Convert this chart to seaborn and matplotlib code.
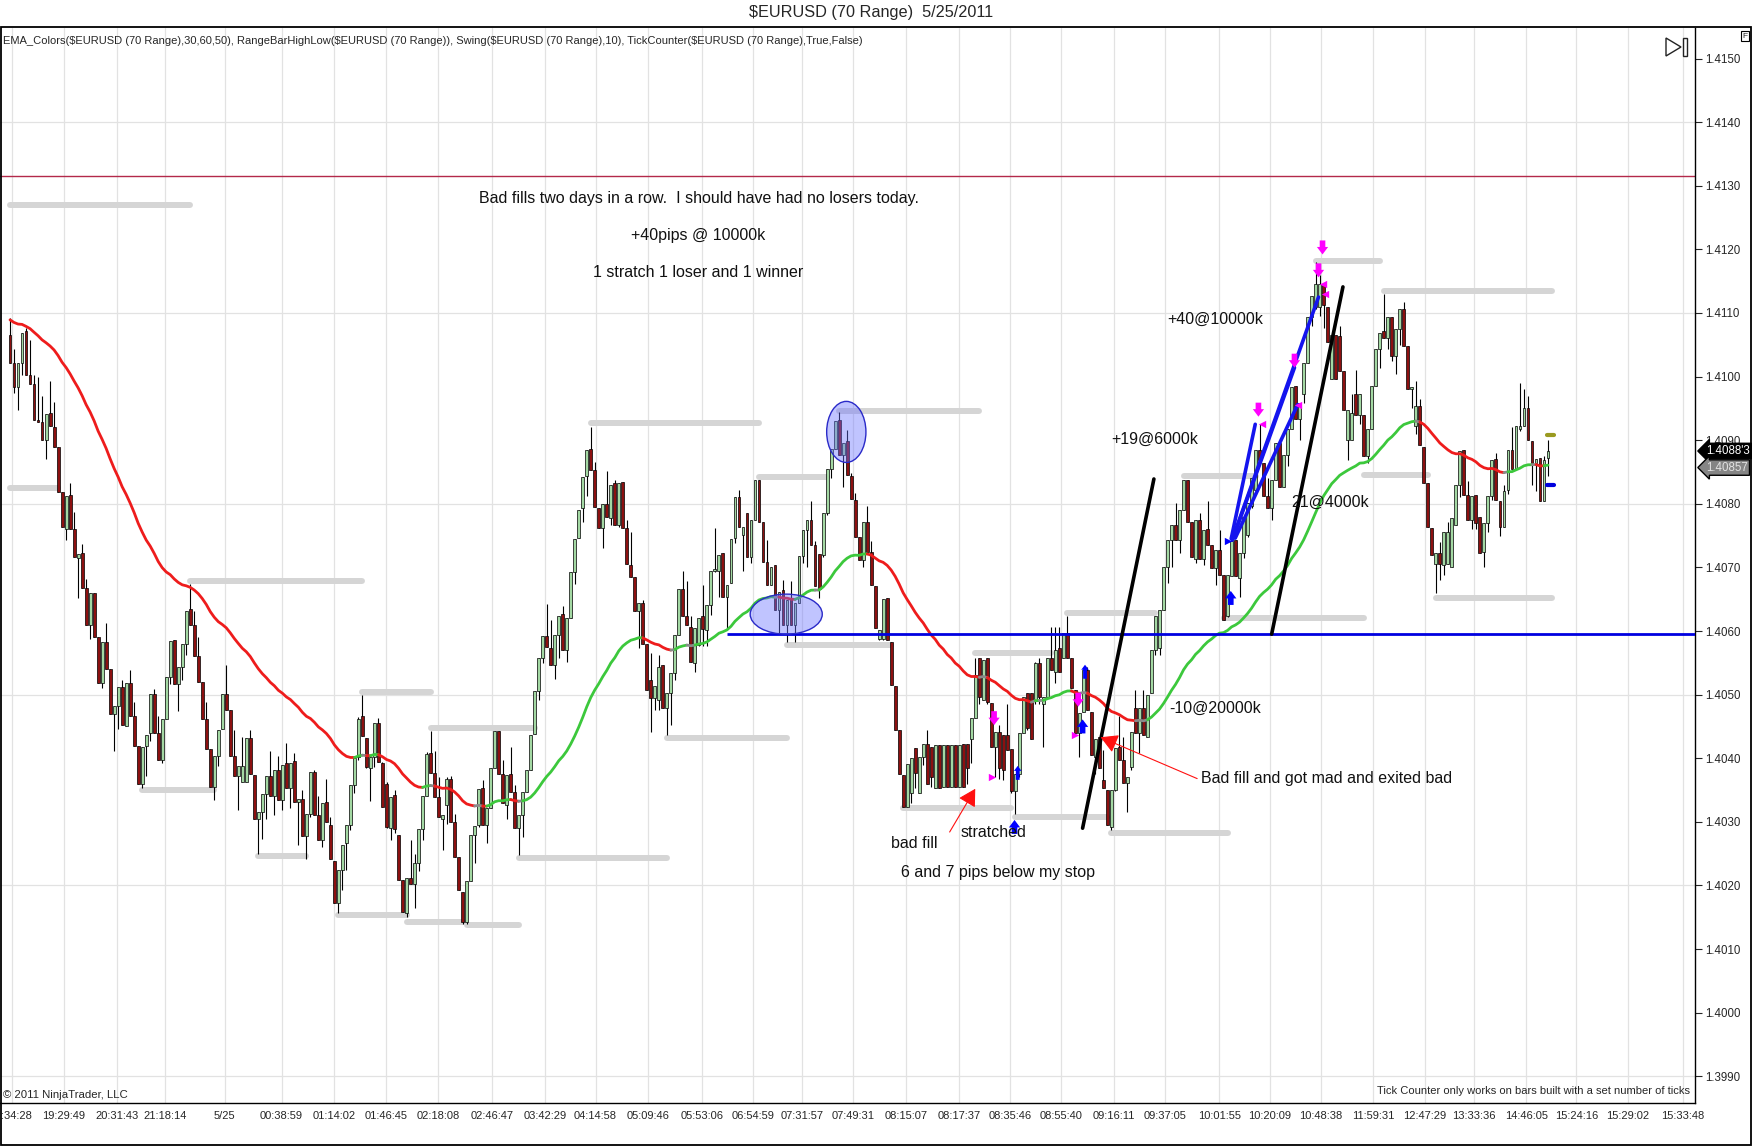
import numpy as np
import pandas as pd
import seaborn as sns
import matplotlib.pyplot as plt
from matplotlib.patches import Ellipse, Rectangle, Polygon
from matplotlib.ticker import FormatStrFormatter
from matplotlib.transforms import blended_transform_factory, ScaledTranslation

# 70-tick range bars, values in pips above 1.4000
bar_open = [
    106.6, 102.1, 98.4, 102.1, 107.2, 100.3, 98.8, 93.1, 92.8, 90.0,
    94.2, 92.1, 88.9, 81.9, 76.1, 81.4, 76.0, 71.5, 72.2, 66.7,
    60.9, 66.0, 59.0, 51.9, 58.2, 54.1, 47.0, 48.2, 51.2, 45.0,
    51.9, 46.7, 41.9, 36.0, 41.9, 44.0, 50.1, 44.0, 39.7, 46.1,
    52.8, 58.6, 51.7, 54.4, 58.0, 63.4, 60.9, 56.1, 52.0, 46.2,
    41.5, 35.5, 40.4, 44.6, 50.1, 47.6, 40.4, 37.2, 36.3, 36.3,
    43.2, 37.3, 30.5, 31.5, 34.3, 37.2, 34.1, 38.2, 33.4, 39.2,
    35.3, 39.5, 33.1, 33.6, 27.8, 31.3, 37.9, 31.0, 27.1, 33.1,
    29.5, 23.9, 17.3, 22.5, 26.6, 29.5, 35.8, 40.2, 46.6, 43.2,
    38.5, 40.2, 45.6, 39.3, 36.0, 29.0, 34.2, 27.9, 20.8, 15.6,
    21.2, 20.3, 23.5, 28.8, 34.0, 40.9, 37.7, 33.9, 30.4, 32.6,
    36.8, 30.0, 24.5, 19.0, 14.3, 20.7, 27.9, 29.5, 35.3, 29.5,
    32.1, 38.4, 44.3, 37.5, 32.6, 37.6, 34.7, 29.0, 31.0, 34.7,
    38.1, 43.8, 50.6, 55.8, 59.2, 57.4, 54.6, 59.4, 62.6, 57.0,
    62.1, 69.2, 74.7, 79.4, 84.3, 88.6, 85.3, 79.4, 76.2, 80.0,
    77.8, 83.2, 76.6, 83.4, 76.2, 70.3, 68.5, 63.1, 64.4, 57.9,
    52.3, 49.4, 49.2, 54.7, 47.9, 50.2, 53.4, 59.4, 66.6, 62.3,
    60.7, 54.9, 57.8, 62.3, 60.2, 64.1, 69.4, 69.4, 72.2, 65.4,
    67.5, 74.6, 81.0, 75.1, 78.6, 71.7, 77.4, 83.8, 77.2, 70.8,
    67.3, 70.4, 63.3, 66.5, 61.0, 65.2, 61.0, 64.4, 71.8, 75.9,
    77.4, 73.5, 72.1, 72.0, 78.6, 85.4, 88.6, 93.1, 87.7, 89.8,
    84.4, 80.6, 74.8, 71.2, 77.1, 72.5, 67.1, 58.7, 58.7, 65.2,
    58.3, 51.4, 44.4, 37.4, 32.4, 34.5, 41.6, 34.5, 40.2, 42.3,
    41.8, 35.3, 42.1, 35.5, 42.1, 35.5, 42.1, 35.5, 42.3, 42.3,
    43.1, 46.3, 55.7, 49.2, 55.7, 48.7, 41.8, 44.2, 43.7, 43.7,
    41.4, 34.8, 37.6, 43.9, 50.2, 50.2, 49.2, 55.0, 48.6, 49.7,
    55.7, 53.6, 57.3, 55.7, 59.7, 55.7, 50.7, 43.9, 47.3, 53.9,
    47.3, 40.2, 43.4, 36.6, 35.0, 29.2, 35.0, 41.8, 39.7, 36.1,
    38.7, 47.9, 43.9, 47.9, 43.4, 50.2, 57.0, 57.3, 63.3, 70.1,
    74.3, 76.7, 74.3, 79.0, 83.8, 77.2, 71.4, 77.5, 71.4, 76.0,
    73.5, 69.9, 72.8, 68.8, 62.3, 68.6, 74.3, 68.3, 72.3, 75.1,
    79.6, 82.2, 88.5, 86.4, 81.2, 79.3, 83.8, 89.6, 82.7, 87.7,
    91.7, 98.5, 93.3, 97.2, 102.2, 109.3, 110.9, 110.9, 114.6, 110.9,
    99.6, 106.5, 106.4, 100.9, 90.1, 90.1, 97.2, 94.0, 93.9, 87.5,
    91.7, 98.5, 104.3, 107.2, 106.1, 109.3, 103.3, 107.5, 110.6, 104.8,
    98.0, 92.2, 95.4, 89.0, 83.3, 76.2, 70.6, 72.2, 70.4, 70.6,
    70.1, 76.7, 83.0, 88.4, 81.4, 77.5, 81.4, 78.0, 72.5, 77.0,
    81.2, 87.0, 80.4, 76.4, 82.2, 88.5, 85.4, 91.7, 92.2, 95.0,
    89.8, 86.4, 87.2, 80.4, 87.2,
]
bar_high = [
    109.2, 104.4, 102.1, 106.9, 107.6, 105.8, 100.2, 99.9, 97.0, 94.1,
    99.3, 96.0, 88.9, 81.9, 81.2, 83.2, 78.7, 72.1, 73.7, 68.1,
    66.0, 66.0, 59.0, 58.2, 61.3, 54.1, 48.2, 51.2, 52.3, 51.9,
    53.8, 48.8, 41.9, 41.7, 43.6, 50.1, 50.9, 46.7, 46.1, 52.8,
    58.4, 58.6, 54.4, 58.0, 63.2, 67.4, 63.1, 59.1, 52.0, 48.8,
    41.5, 40.4, 44.5, 50.1, 54.7, 47.6, 44.4, 38.8, 43.3, 43.2,
    44.5, 37.3, 31.5, 34.3, 37.2, 41.1, 38.1, 40.4, 39.0, 42.4,
    39.2, 40.8, 33.6, 35.0, 31.3, 37.8, 38.2, 34.0, 32.9, 36.7,
    30.8, 23.9, 22.5, 26.4, 29.5, 35.8, 40.2, 46.5, 49.9, 43.2,
    40.2, 45.6, 46.4, 39.4, 36.3, 33.9, 35.0, 27.9, 20.8, 21.1,
    27.1, 25.0, 28.8, 34.0, 41.0, 44.3, 41.2, 37.1, 31.0, 37.1,
    37.2, 31.3, 24.5, 19.0, 20.7, 27.9, 29.3, 35.1, 36.6, 32.1,
    38.4, 44.3, 44.3, 39.7, 37.3, 41.7, 35.8, 31.0, 34.7, 38.1,
    43.6, 50.6, 55.8, 59.2, 64.3, 61.7, 59.4, 62.3, 63.9, 62.1,
    69.2, 74.5, 79.1, 84.2, 88.5, 92.0, 86.5, 79.4, 80.0, 85.1,
    83.0, 83.7, 83.2, 83.4, 77.4, 75.5, 68.5, 64.4, 64.9, 57.9,
    56.5, 51.3, 56.2, 54.7, 50.2, 53.4, 59.3, 66.6, 69.4, 67.8,
    62.3, 60.4, 62.0, 67.3, 64.1, 69.4, 76.2, 72.0, 72.2, 67.3,
    74.4, 81.0, 82.2, 76.4, 78.6, 77.4, 83.8, 83.8, 77.2, 74.3,
    70.1, 70.4, 66.2, 68.0, 64.9, 67.8, 64.4, 71.8, 75.9, 77.4,
    80.4, 74.1, 72.1, 78.6, 85.4, 88.6, 93.0, 94.4, 89.6, 91.6,
    84.9, 81.7, 74.8, 77.1, 79.6, 74.1, 67.1, 60.2, 65.0, 65.2,
    58.3, 51.4, 44.4, 37.4, 39.1, 40.0, 41.6, 40.2, 42.3, 44.4,
    41.8, 42.1, 42.1, 42.1, 42.1, 42.1, 42.1, 42.1, 42.3, 42.3,
    46.3, 55.7, 55.7, 55.5, 55.7, 48.7, 44.2, 45.2, 43.7, 48.6,
    41.4, 37.6, 43.9, 49.7, 50.2, 50.2, 55.2, 55.7, 49.7, 55.7,
    60.7, 60.7, 60.7, 59.7, 62.3, 55.7, 50.7, 47.1, 53.9, 54.4,
    47.3, 43.1, 43.4, 41.3, 35.0, 35.0, 41.6, 46.6, 43.4, 37.1,
    44.2, 50.7, 47.9, 50.7, 49.9, 57.0, 62.3, 63.3, 70.1, 74.3,
    76.7, 80.1, 79.0, 83.8, 83.8, 77.2, 77.4, 78.5, 75.9, 80.4,
    73.5, 72.8, 75.9, 68.8, 68.8, 74.3, 74.3, 72.2, 78.0, 80.1,
    84.1, 88.5, 92.5, 86.4, 84.0, 83.8, 89.6, 89.6, 87.7, 91.7,
    98.3, 98.5, 95.9, 102.2, 109.3, 112.7, 118.0, 116.0, 114.6, 110.9,
    106.5, 106.5, 108.0, 100.9, 94.8, 97.2, 101.1, 97.2, 93.9, 91.7,
    98.5, 104.3, 106.9, 113.0, 109.3, 109.3, 107.5, 110.6, 111.7, 104.8,
    98.4, 99.3, 96.5, 89.0, 83.3, 76.2, 72.2, 74.0, 75.5, 77.2,
    77.7, 83.0, 88.3, 88.4, 83.6, 81.2, 81.4, 78.0, 77.0, 81.3,
    86.9, 88.0, 80.4, 83.0, 88.5, 92.0, 92.2, 99.0, 98.0, 97.0,
    89.8, 87.0, 87.2, 87.5, 90.1,
]
bar_low = [
    102.1, 97.4, 94.8, 100.2, 100.3, 98.8, 93.1, 92.9, 90.0, 87.1,
    92.3, 88.9, 81.9, 76.3, 74.3, 76.1, 71.6, 65.2, 66.8, 61.0,
    58.7, 59.1, 51.9, 51.1, 54.1, 47.0, 41.1, 44.6, 45.3, 45.0,
    46.7, 41.9, 36.0, 35.3, 37.2, 42.7, 44.0, 39.7, 39.2, 46.1,
    51.7, 51.7, 47.4, 52.3, 56.2, 60.9, 56.1, 52.0, 46.2, 41.5,
    35.5, 33.4, 38.8, 44.6, 47.6, 40.4, 37.2, 31.8, 36.3, 36.3,
    37.6, 30.5, 25.0, 27.3, 30.5, 34.1, 31.1, 33.4, 31.8, 35.3,
    32.1, 33.1, 26.3, 27.8, 24.1, 30.8, 31.0, 27.1, 26.0, 29.9,
    24.1, 17.3, 15.7, 19.3, 22.4, 28.7, 34.5, 39.7, 43.5, 38.4,
    33.2, 38.6, 39.4, 32.3, 29.0, 27.1, 28.2, 20.8, 15.9, 15.1,
    20.3, 16.4, 22.2, 27.1, 34.0, 37.7, 33.9, 30.7, 25.5, 29.7,
    30.0, 24.5, 19.3, 14.0, 14.0, 20.7, 23.5, 29.2, 29.5, 26.6,
    32.1, 38.4, 37.5, 32.9, 30.5, 34.7, 29.0, 24.8, 27.6, 34.7,
    38.1, 43.8, 49.1, 54.9, 57.5, 54.7, 52.5, 55.7, 57.0, 55.1,
    62.1, 67.4, 74.7, 77.1, 81.3, 85.3, 79.5, 76.2, 73.0, 77.9,
    76.6, 76.6, 76.4, 76.2, 70.5, 68.5, 63.1, 57.4, 58.0, 50.8,
    44.2, 47.6, 47.6, 47.9, 43.6, 45.2, 52.3, 59.4, 62.3, 61.0,
    55.2, 53.5, 57.6, 57.6, 57.6, 62.5, 69.2, 65.4, 65.4, 60.3,
    67.5, 73.8, 76.4, 69.4, 71.7, 70.7, 77.4, 77.2, 70.8, 67.3,
    67.3, 63.3, 59.6, 61.0, 58.3, 61.0, 58.3, 64.4, 70.7, 70.1,
    73.5, 67.1, 65.2, 71.7, 78.3, 84.0, 88.6, 87.7, 82.6, 84.6,
    80.7, 74.8, 71.2, 70.1, 72.5, 67.3, 60.4, 58.6, 58.6, 58.6,
    51.5, 44.5, 37.5, 32.4, 32.3, 33.0, 35.3, 34.5, 39.0, 36.0,
    35.5, 35.3, 35.3, 35.5, 35.5, 35.5, 35.5, 35.5, 35.5, 36.0,
    39.2, 46.3, 48.6, 49.2, 48.6, 41.8, 37.1, 36.8, 36.6, 41.3,
    34.5, 31.3, 37.1, 43.9, 44.4, 43.1, 48.6, 48.6, 41.8, 49.7,
    53.9, 51.8, 53.6, 55.7, 55.7, 51.0, 43.7, 40.2, 47.3, 47.6,
    40.5, 37.6, 38.4, 35.3, 29.5, 28.7, 34.8, 39.7, 36.1, 31.6,
    38.1, 43.9, 40.8, 43.7, 43.4, 50.2, 56.2, 56.2, 63.3, 67.5,
    70.1, 74.3, 72.2, 79.0, 77.2, 71.7, 70.7, 71.4, 70.4, 73.5,
    69.9, 67.3, 68.8, 61.7, 62.2, 68.6, 68.6, 65.4, 71.5, 74.8,
    79.3, 81.5, 86.9, 81.2, 79.3, 77.5, 83.8, 82.7, 82.7, 86.0,
    91.7, 93.3, 90.1, 95.9, 102.2, 108.0, 110.6, 109.6, 107.7, 105.4,
    99.6, 99.6, 100.9, 94.8, 86.9, 90.1, 94.0, 92.5, 87.5, 86.4,
    91.7, 98.5, 101.4, 106.1, 104.3, 102.5, 100.4, 105.0, 104.8, 98.1,
    95.0, 91.0, 89.3, 83.3, 76.4, 71.9, 65.9, 68.0, 68.8, 70.6,
    70.1, 76.7, 81.0, 81.4, 77.5, 76.0, 76.0, 72.2, 70.0, 75.5,
    80.6, 80.6, 75.0, 76.4, 81.5, 85.4, 85.4, 91.5, 92.2, 90.1,
    83.0, 82.0, 80.4, 80.4, 84.3,
]
bar_close = [
    102.1, 98.4, 102.1, 106.9, 100.3, 98.8, 93.1, 92.9, 90.0, 94.1,
    92.3, 88.9, 81.9, 76.3, 81.2, 76.1, 71.6, 72.1, 66.8, 61.0,
    66.0, 59.1, 51.9, 58.2, 54.1, 47.0, 48.2, 51.2, 45.3, 51.9,
    46.7, 41.9, 36.0, 41.7, 43.6, 50.1, 44.0, 39.7, 46.1, 52.8,
    58.4, 51.7, 54.4, 58.0, 63.2, 60.9, 56.1, 52.0, 46.2, 41.5,
    35.5, 40.4, 44.5, 50.1, 47.6, 40.4, 37.2, 38.8, 38.8, 43.2,
    37.6, 30.5, 31.5, 34.3, 37.2, 34.1, 38.1, 33.4, 39.0, 35.3,
    39.2, 33.1, 33.6, 27.8, 31.3, 37.8, 31.0, 27.1, 32.9, 29.9,
    24.1, 17.3, 22.5, 26.4, 29.5, 35.8, 40.0, 46.2, 43.5, 38.6,
    40.2, 45.6, 39.4, 32.3, 29.2, 33.9, 28.8, 20.8, 15.9, 21.1,
    20.3, 23.5, 28.8, 34.0, 40.7, 37.7, 33.9, 30.7, 31.0, 36.7,
    30.0, 24.5, 19.3, 14.3, 20.7, 27.9, 29.3, 35.1, 29.5, 32.1,
    38.4, 44.3, 37.5, 32.9, 37.3, 34.7, 29.0, 31.0, 34.7, 38.1,
    43.6, 50.6, 55.8, 59.2, 57.5, 54.7, 59.4, 62.3, 57.0, 62.1,
    69.2, 74.5, 79.1, 84.2, 88.5, 85.3, 79.5, 76.2, 80.0, 77.9,
    83.0, 76.6, 83.2, 76.2, 70.5, 68.5, 63.1, 64.4, 58.0, 50.8,
    49.4, 51.3, 54.4, 47.9, 50.2, 53.4, 59.3, 66.6, 62.3, 61.0,
    55.2, 60.4, 62.0, 60.3, 64.1, 69.4, 69.7, 72.0, 65.4, 67.3,
    74.4, 81.0, 76.4, 76.4, 71.7, 77.4, 83.8, 77.2, 70.8, 67.3,
    70.1, 63.3, 66.2, 61.0, 64.9, 61.0, 64.4, 71.8, 75.9, 77.4,
    73.5, 67.1, 66.6, 78.6, 85.4, 88.6, 93.0, 87.7, 89.6, 84.6,
    80.7, 74.8, 71.2, 77.1, 72.5, 67.3, 60.4, 60.2, 65.0, 58.6,
    51.5, 44.5, 37.5, 32.4, 39.1, 40.0, 37.7, 40.2, 42.3, 36.0,
    37.1, 42.1, 35.3, 42.1, 35.5, 42.1, 35.5, 42.1, 35.5, 38.4,
    46.3, 53.1, 49.7, 55.5, 48.9, 41.8, 44.2, 38.4, 38.1, 41.3,
    34.8, 37.6, 43.9, 49.7, 44.7, 43.1, 54.9, 49.7, 49.7, 55.7,
    53.9, 57.0, 53.6, 59.7, 55.7, 51.0, 43.9, 47.1, 53.9, 47.6,
    40.5, 43.1, 38.4, 35.3, 29.5, 35.0, 41.6, 39.7, 36.1, 37.1,
    44.2, 43.9, 47.9, 43.7, 49.9, 57.0, 62.3, 63.3, 70.1, 74.3,
    76.7, 74.3, 79.0, 83.8, 77.2, 71.7, 77.4, 71.4, 75.9, 73.5,
    69.9, 72.8, 68.8, 61.7, 68.8, 74.1, 68.6, 72.2, 78.0, 80.1,
    84.1, 88.5, 86.9, 81.2, 79.3, 83.8, 89.6, 82.7, 87.7, 91.7,
    98.3, 93.3, 95.9, 102.2, 109.3, 112.7, 114.6, 114.6, 111.2, 105.4,
    106.5, 99.6, 100.9, 94.8, 94.8, 94.3, 94.0, 97.2, 87.5, 91.7,
    98.5, 104.3, 106.9, 106.1, 109.3, 103.3, 107.5, 110.6, 104.8, 98.1,
    98.4, 95.4, 89.3, 83.3, 76.4, 71.9, 72.2, 70.6, 75.5, 75.6,
    77.7, 83.0, 88.3, 81.4, 77.5, 81.2, 77.0, 72.2, 77.0, 81.3,
    86.9, 80.6, 76.4, 82.0, 88.5, 85.4, 92.2, 92.2, 95.0, 90.1,
    86.4, 87.0, 80.4, 86.9, 88.3,
]

# swing / range-bar high-low levels (pips) with the bar span they cover
swing_level = [127.0, 82.5, 67.9, 35.0, 24.6, 15.3, 50.4, 14.3, 13.8, 44.8, 24.3, 92.7, 43.2, 84.2,
               57.8, 94.6, 32.1, 56.5, 30.8, 62.9, 28.3, 84.4, 62.0, 118.1, 113.5, 84.6, 65.2]
swing_from = [0, 0, 45, 33, 62, 82, 88, 99, 114, 105, 127, 145, 164, 187,
              194, 207, 223, 241, 251, 264, 275, 293, 303, 326, 343, 338, 356]
swing_to = [45, 12, 88, 51, 74, 99, 105, 113, 127, 131, 164, 187, 194, 204,
            220, 242, 250, 260, 274, 286, 304, 311, 338, 342, 385, 354, 385]

tick_pos = [0.4, 13.4, 26.7, 38.7, 53.6, 67.8, 80.9, 93.8, 106.9, 120.3, 133.6, 146.2, 159.3, 172.7,
            185.5, 197.8, 210.4, 223.7, 236.9, 249.7, 262.4, 275.7, 288.4, 301.9, 314.6, 327.3,
            340.4, 353.2, 365.5, 378.6, 391.1, 404.0, 417.6]
tick_labels = [':34:28', '19:29:49', '20:31:43', '21:18:14', '5/25', '00:38:59', '01:14:02', '01:46:45',
               '02:18:08', '02:46:47', '03:42:29', '04:14:58', '05:09:46', '05:53:06', '06:54:59',
               '07:31:57', '07:49:31', '08:15:07', '08:17:37', '08:35:46', '08:55:40', '09:16:11',
               '09:37:05', '10:01:55', '10:20:09', '10:48:38', '11:59:31', '12:47:29', '13:33:36',
               '14:46:05', '15:24:16', '15:29:02', '15:33:48']

ema_period = 50
ema_seed = 109.2
prior_high = 131.6
support = 59.5

# drawn trend lines: (x0, y0, x1, y1) in bars / pips
black_lines = [(267.8, 29.0, 285.6, 83.9), (315.0, 59.5, 332.8, 114.1)]
blue_lines = [(304.9, 74.5, 310.9, 92.5), (305.2, 74.3, 320.7, 101.4),
              (305.9, 74.6, 321.5, 95.6), (305.4, 74.8, 326.7, 112.5)]

# trade markers
sell_x = [245.7, 266.7, 311.7, 320.7, 326.7, 327.7]
sell_y = [46.3, 49.2, 94.8, 102.5, 116.7, 120.3]
buy_x = [250.8, 267.8, 304.8]
buy_y = [29.2, 45.0, 65.2]
buy_small_x = [251.6, 268.4]
buy_small_y = [37.7, 53.6]
exit_r_x = [245.1, 265.9]
exit_r_y = [37.1, 43.7]
exit_l_x = [312.5, 321.5, 327.7, 328.3]
exit_l_y = [92.6, 95.6, 114.5, 113.0]

notes = [
    ('Bad fills two days in a row.  I should have had no losers today.', 171.9, 128.0, 'center'),
    ('+40pips @ 10000k', 171.9, 122.2, 'center'),
    ('1 stratch 1 loser and 1 winner', 171.9, 116.4, 'center'),
    ('+19@6000k', 285.7, 90.1, 'center'),
    ('+40@10000k', 300.8, 109.0, 'center'),
    ('21@4000k', 329.5, 80.2, 'center'),
    ('-10@20000k', 300.8, 47.9, 'center'),
    ('Bad fill and got mad and exited bad', 297.3, 36.8, 'left'),
    ('bad fill', 225.7, 26.6, 'center'),
    ('stratched', 245.5, 28.4, 'center'),
    ('6 and 7 pips below my stop', 246.6, 22.1, 'center'),
]

last_price = 1.40883
bid_price = 1.40857

pip = 0.0001
base = 1.4

def px(v):
    return base + np.asarray(v) * pip

sns.set_style('white')
plt.rcParams['font.family'] = ['Liberation Sans', 'DejaVu Sans']
narrow = ['Liberation Sans Narrow', 'Liberation Sans', 'DejaVu Sans']

W, H = 1752, 1147
fig = plt.figure(figsize=(W / 100, H / 100), dpi=100)
ax = fig.add_axes([0, 1 - 1103 / H, 1695 / W, (1103 - 28) / H])

df = pd.DataFrame({'open': px(bar_open), 'high': px(bar_high), 'low': px(bar_low), 'close': px(bar_close)})
df['x'] = np.arange(len(df))
up = df['close'] >= df['open']

xmin, xmax = -2.5, 420.7
ax.set_xlim(xmin, xmax)
ax.set_ylim(1.39858, 1.41548)

# grid
for t in tick_pos:
    ax.axvline(t, color='#e2e2e2', lw=0.9, zorder=0)
for g in [1.4140, 1.4110, 1.4080, 1.4050, 1.4020, 1.3990]:
    ax.axhline(g, color='#e2e2e2', lw=0.9, zorder=0)

ax.axhline(px(prior_high), color='#b3294a', lw=1.0, zorder=1)

# swing levels
for lvl, a, b in zip(swing_level, swing_from, swing_to):
    ax.plot([a, b], [px(lvl), px(lvl)], color='#d5d5d5', lw=4.3, solid_capstyle='round', zorder=2)

# candles
ax.vlines(df['x'], df['low'], df['high'], color='black', lw=0.8, zorder=3)
body_bottom = df[['open', 'close']].min(axis=1)
body_h = (df['close'] - df['open']).abs().clip(lower=0.3 * pip)
ax.bar(df['x'], body_h, bottom=body_bottom, width=0.72,
       color=np.where(up, '#a3d8a3', '#8c1010'), edgecolor='black', linewidth=0.5, zorder=4)

# colored EMA
ema = pd.concat([pd.Series([px(ema_seed)]), df['close']], ignore_index=True)
ema = ema.ewm(span=ema_period, adjust=False).mean().iloc[1:].to_numpy()
slope = np.gradient(ema)
thr = 0.04 * pip
state = np.select([slope > thr, slope < -thr], ['up', 'down'], 'flat')
run_id = np.concatenate([[0], np.cumsum(state[1:] != state[:-1])])
rows = []
palette = {}
ema_colors = {'up': '#3cc83c', 'down': '#ee1c1c', 'flat': '#8a8a8a'}
for r in np.unique(run_id):
    idx = np.where(run_id == r)[0]
    if idx[-1] + 1 < len(ema):
        idx = np.append(idx, idx[-1] + 1)
    key = f'r{r}'
    palette[key] = ema_colors[state[run_id == r][0]]
    for i in idx:
        rows.append((key, df['x'].iloc[i], ema[i]))
ema_df = pd.DataFrame(rows, columns=['run', 'x', 'ema'])
sns.lineplot(data=ema_df, x='x', y='ema', hue='run', palette=palette, legend=False,
             estimator=None, sort=False, linewidth=2.0, ax=ax, zorder=5)

# support line and trend lines
ax.hlines(px(support), 179.1, xmax, color='#0000e0', lw=2.0, zorder=6)
for x0, y0, x1, y1 in black_lines:
    ax.plot([x0, x1], [px(y0), px(y1)], color='black', lw=2.6, zorder=6)
for x0, y0, x1, y1 in blue_lines:
    ax.plot([x0, x1], [px(y0), px(y1)], color='#1414ee', lw=2.6, zorder=6)

# highlight ellipses
for cx, cy, w, h in [(193.8, 62.65, 18.0, 6.3), (208.8, 91.3, 9.8, 9.6)]:
    ax.add_patch(Ellipse((cx, px(cy)), w, h * pip, facecolor=(0.42, 0.45, 1.0, 0.42),
                         edgecolor='#2a2ac8', lw=1.0, zorder=7))

# trade arrows
def fat_arrow(x, y, color, down, scale=9):
    tip, tail = (y - 1.1, y + 1.1) if down else (y + 1.1, y - 1.1)
    ax.annotate('', xy=(x, px(tip)), xytext=(x, px(tail)),
                arrowprops=dict(arrowstyle='simple,head_length=0.6,head_width=0.9,tail_width=0.45',
                                color=color, lw=0, shrinkA=0, shrinkB=0, mutation_scale=scale),
                zorder=8)

for x, y in zip(sell_x, sell_y):
    fat_arrow(x, y, '#ff00ff', True)
for x, y in zip(buy_x, buy_y):
    fat_arrow(x, y, '#0000ff', False)
for x, y in zip(buy_small_x, buy_small_y):
    fat_arrow(x, y, '#0000ff', False, scale=6)
ax.scatter(exit_r_x, px(exit_r_y), marker='>', s=28, color='#ff00ff', zorder=8, lw=0)
ax.scatter(exit_l_x, px(exit_l_y), marker='<', s=28, color='#ff00ff', zorder=8, lw=0)
ax.scatter([304.0], px([74.2]), marker='>', s=28, color='#0000ff', zorder=8, lw=0)
ax.plot([383.7, 385.5], [px(90.8), px(90.8)], color='#9a9a20', lw=3, zorder=8)
ax.plot([383.7, 385.5], [px(82.9), px(82.9)], color='#0000dd', lw=3, zorder=8)

# notes and red arrows
for txt, x, y, ha in notes:
    ax.text(x, px(y), txt, ha=ha, va='center', fontsize=11.5, color='#111111', zorder=9)
red_arrow = dict(arrowstyle='-|>,head_length=0.8,head_width=0.45', color='#ff1010', lw=0.8,
                 shrinkA=0, shrinkB=0, mutation_scale=13)
ax.annotate('', xy=(241.0, px(35.2)), xytext=(234.6, px(28.4)), arrowprops=red_arrow, zorder=9)
ax.annotate('', xy=(272.3, px(43.3)), xytext=(296.4, px(36.8)), arrowprops=red_arrow, zorder=9)

# axes styling
ax.set_xlabel('')
ax.set_ylabel('')
ax.yaxis.tick_right()
ax.set_yticks(np.round(np.arange(1.3990, 1.41501, 0.001), 4))
ax.yaxis.set_major_formatter(FormatStrFormatter('%.4f'))
ax.set_xticks(tick_pos)
ax.set_xticklabels(tick_labels, family=narrow, fontsize=8)
ax.tick_params(axis='y', length=5, width=0.8, labelsize=8.3, pad=2, direction='out')
ax.tick_params(axis='x', length=4, width=0.8, pad=2, direction='out')
first = ax.get_xticklabels()[0]
first.set_ha('left')
first.set_transform(first.get_transform() + ScaledTranslation(-11 / 100, 0, fig.dpi_scale_trans))
for s in ['top', 'left']:
    ax.spines[s].set_visible(False)
for s in ['right', 'bottom']:
    ax.spines[s].set_color('black')
    ax.spines[s].set_linewidth(1.0)

# price tags
tr = blended_transform_factory(ax.transAxes, ax.transData)
ax.text(1.0065, last_price, "1.4088'3", transform=tr, ha='left', va='center', fontsize=8.3, color='white',
        bbox=dict(boxstyle='larrow,pad=0.15', fc='black', ec='black'), clip_on=False, zorder=10)
ax.text(1.0065, bid_price, '1.40857', transform=tr, ha='left', va='center', fontsize=8.3, color='#e2e2e2',
        bbox=dict(boxstyle='larrow,pad=0.15', fc='#858585', ec='black'), clip_on=False, zorder=10)

# figure furniture
fig.text(871 / W, 1 - 13 / H, '$EURUSD (70 Range)  5/25/2011', ha='center', va='center',
         fontsize=11.7, parse_math=False)
fig.text(3 / W, 1 - 41 / H,
         'EMA_Colors($EURUSD (70 Range),30,60,50), RangeBarHighLow($EURUSD (70 Range)), '
         'Swing($EURUSD (70 Range),10), TickCounter($EURUSD (70 Range),True,False)',
         ha='left', va='center', fontsize=8, family=narrow, parse_math=False)
fig.text(3 / W, 1 - 1095 / H, '\u00a9 2011 NinjaTrader, LLC', ha='left', va='center',
         fontsize=8.2, family=narrow)
fig.text(1690 / W, 1 - 1091 / H, 'Tick Counter only works on bars built with a set number of ticks',
         ha='right', va='center', fontsize=8, family=narrow)
fig.text(1745 / W, 1 - 36 / H, 'F', ha='center', va='center', fontsize=6,
         bbox=dict(boxstyle='square,pad=0.2', fc='white', ec='black', lw=0.8))
fig.add_artist(Polygon([(1666 / W, 1 - 38 / H), (1666 / W, 1 - 56 / H), (1681 / W, 1 - 47 / H)],
                       closed=True, fill=False, ec='#222222', lw=1.0, transform=fig.transFigure))
fig.add_artist(Rectangle((1683 / W, 1 - 56 / H), 4 / W, 18 / H, fill=False, ec='#222222', lw=1.0,
                         transform=fig.transFigure))
fig.add_artist(Rectangle((0.5 / W, 1 - 1145 / H), 1750 / W, (1145 - 27) / H, fill=False,
                         ec='black', lw=1.3, transform=fig.transFigure))

fig.savefig('out.png', dpi=100)
